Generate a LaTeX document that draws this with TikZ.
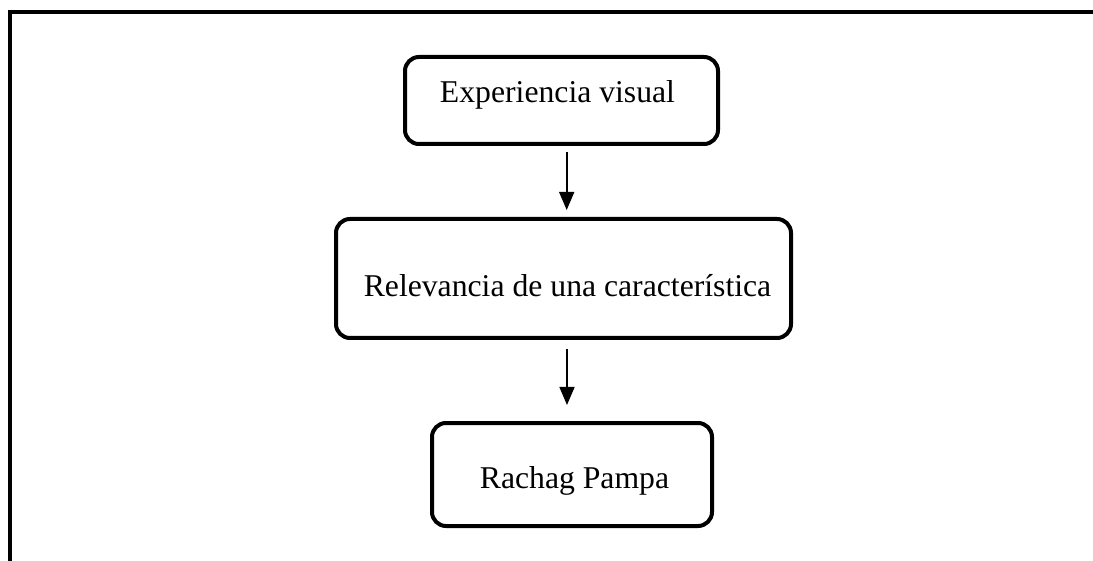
\documentclass[tikz,border=0pt]{standalone}
\usepackage{fontspec}
\setmainfont{Liberation Serif}
\usetikzlibrary{arrows.meta}
\begin{document}
\begin{tikzpicture}[x=1pt,y=-1pt,
  flowbox/.style={draw=black,line width=4pt,rounded corners=14pt,inner sep=0pt},
  boxtext/.style={anchor=base,inner sep=0pt,font=\fontsize{31.7}{38}\selectfont},
  flowarrow/.style={line width=1.6pt,-{Triangle[width=15pt,length=18pt]}},
  framerule/.style={line width=4pt,line join=miter}]
\useasboundingbox (0,0) rectangle (1093,561);
% frame
\coordinate (f1) at (10,561);
\coordinate (f2) at (10,12);
\coordinate (f3) at (1093,12);
\draw[framerule] (f1) -- (f2) -- (f3);
% boxes
\node[flowbox,minimum width=313pt,minimum height=87pt] (b1) at (561.5,100.5) {};
\node[flowbox,minimum width=455pt,minimum height=119pt] (b2) at (563.5,278.5) {};
\node[flowbox,minimum width=280pt,minimum height=103pt] (b3) at (572,474.5) {};
% texts
\node[boxtext] (t1) at (557.5,103) {Experiencia visual};
\node[boxtext] (t2) at (567.5,297) {Relevancia de una característica};
\node[boxtext] (t3) at (574.5,488) {Rachag Pampa};
% arrows
\coordinate (a1s) at (566.7,152);
\coordinate (a1e) at (566.7,210);
\coordinate (a2s) at (567,349);
\coordinate (a2e) at (567,405);
\draw[flowarrow] (a1s) -- (a1e);
\draw[flowarrow] (a2s) -- (a2e);
\end{tikzpicture}
\end{document}
